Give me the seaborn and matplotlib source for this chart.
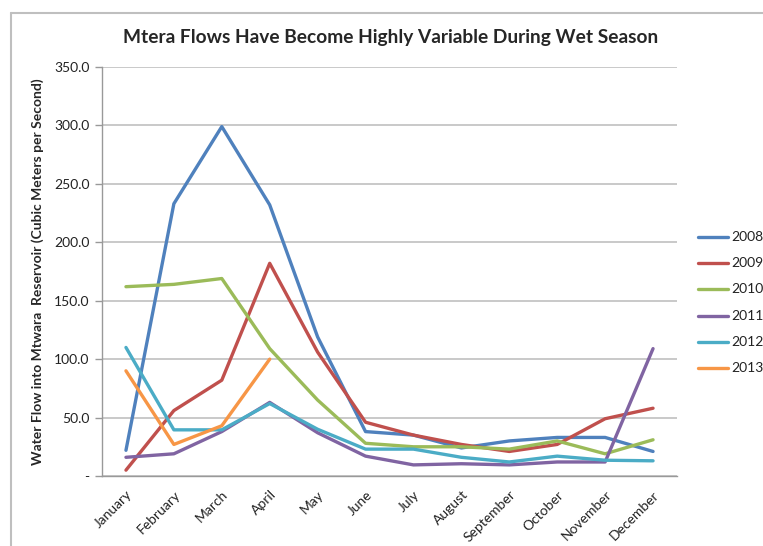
import matplotlib
matplotlib.use("Agg")
import matplotlib.pyplot as plt
import numpy as np
import pandas as pd
import seaborn as sns

months = ["January", "February", "March", "April", "May", "June", "July",
          "August", "September", "October", "November", "December"]
years = ["2008", "2009", "2010", "2011", "2012", "2013"]

flow_2008 = [22, 233, 299, 232, 119, 38, 35, 24, 30, 33, 33, 21]
flow_2009 = [5, 56, 82, 182, 106, 46, 35, 27, 21, 27, 49, 58]
flow_2010 = [162, 164, 169, 109, 65, 28, 25, 25, 23, 30, 19, 31]
flow_2011 = [16, 19, 38, 63, 37, 17, 9.5, 10.5, 9.5, 12, 12, 109]
flow_2012 = [110, 39.5, 39.5, 62, 40, 23, 23, 16, 12, 17, 13.5, 13]
flow_2013 = [90, 27, 43, 100]

series = [flow_2008, flow_2009, flow_2010, flow_2011, flow_2012, flow_2013]
colors = ["#4F81BD", "#C0504D", "#9BBB59", "#8064A2", "#4BACC6", "#F79646"]

y_ticks = [0, 50, 100, 150, 200, 250, 300, 350]
y_tick_labels = ["-", "50.0", "100.0", "150.0", "200.0", "250.0", "300.0", "350.0"]

rows = []
for yr, vals in zip(years, series):
    for i, v in enumerate(vals):
        rows.append({"month": i, "year": yr, "flow": v})
df = pd.DataFrame(rows)

sns.set_theme(style="white")
plt.rcParams["font.family"] = ["Lato", "DejaVu Sans"]

fig = plt.figure(figsize=(7.63, 5.46), dpi=100)
ax = fig.add_axes([102 / 763, 1 - 476 / 546, (677 - 102) / 763, (476 - 67) / 546])

# chart area frame (top and left edges)
frame_x = 10.5 / 763
frame_y = 1 - 13 / 546
fig.add_artist(plt.Line2D([frame_x, 1.0], [frame_y, frame_y], color="#BFBFBF",
                          linewidth=1.5, transform=fig.transFigure))
fig.add_artist(plt.Line2D([frame_x, frame_x], [0.0, frame_y], color="#BFBFBF",
                          linewidth=1.5, transform=fig.transFigure))

sns.lineplot(data=df, x="month", y="flow", hue="year", palette=colors,
             linewidth=2.4, ax=ax, legend=False, sort=False)

ax.set_xlim(-0.5, 11.5)
ax.set_ylim(0, 350)
ax.set_yticks(y_ticks)
ax.set_yticklabels(y_tick_labels, fontsize=10, color="#222222")
ax.yaxis.grid(True, color="#BBBBBB", linewidth=1.1)
ax.set_axisbelow(True)

ax.set_xticks(range(12))
ax.set_xticklabels(months, rotation=45, ha="right", rotation_mode="anchor",
                   fontsize=10, color="#222222")
ax.set_xticks(np.arange(13) - 0.5, minor=True)
ax.tick_params(axis="x", which="major", length=0, pad=9)
ax.tick_params(axis="x", which="minor", length=5, color="#999999", width=1, direction="out")
ax.tick_params(axis="y", length=5, color="#999999", width=1, direction="out", left=True, pad=4)

for side in ["top", "right"]:
    ax.spines[side].set_visible(False)
for side in ["left", "bottom"]:
    ax.spines[side].set_color("#999999")
    ax.spines[side].set_linewidth(1)

ax.set_xlabel("")
ax.set_ylabel("Water Flow into Mtwara  Reservoir (Cubic Meters per Second)",
              fontsize=10, fontweight="bold", labelpad=7)

fig.text(391 / 763, 1 - 38 / 546,
         "Mtera Flows Have Become Highly Variable During Wet Season",
         ha="center", va="center", fontsize=13.8, fontweight="bold")

# legend
for k, (yr, c) in enumerate(zip(years, colors)):
    yy = 1 - (237 + 26.2 * k) / 546
    fig.add_artist(plt.Line2D([698 / 763, 728 / 763], [yy, yy], color=c,
                              linewidth=2.4, transform=fig.transFigure))
    fig.text(731 / 763, yy, yr, ha="left", va="center", fontsize=10, color="#222222")

fig.savefig("out.png", dpi=100)
